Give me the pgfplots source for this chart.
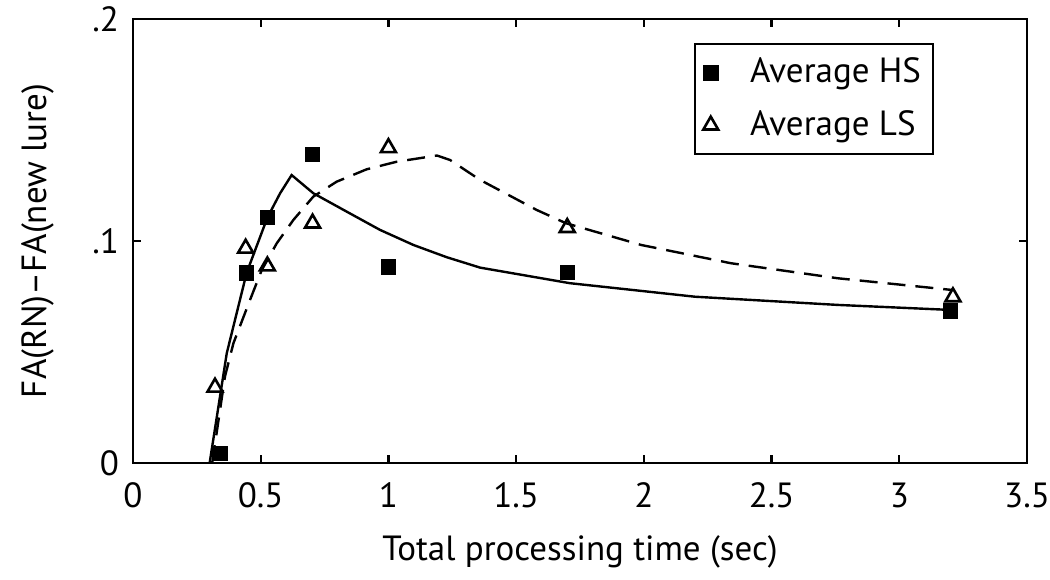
\documentclass[border=0pt]{standalone}
\usepackage{pgfplots}
\pgfplotsset{compat=1.18}
\usepackage{fontspec}
\setmainfont{PT Sans}
\begin{document}
\fontsize{17.5}{21}\selectfont
\begin{tikzpicture}
\begin{axis}[
  scale only axis,
  width=447pt, height=222pt,
  xmin=0, xmax=3.5, ymin=0, ymax=0.2,
  xtick={0,0.5,1,1.5,2,2.5,3,3.5},
  xticklabels={0,0.5,1,1.5,2,2.5,3,3.5},
  ytick={0,0.1,0.2},
  yticklabels={0,.1,.2},
  tick align=inside,
  major tick length=4pt,
  axis line style={line width=1.3pt},
  every tick/.style={black, line width=1.1pt},
  /pgf/number format/assume math mode=true,
  tick label style={font=\fontsize{17.5}{21}\selectfont},
  xticklabel style={yshift=-4pt},
  yticklabel style={xshift=-1pt},
  xlabel={Total processing time (sec)},
  ylabel={FA(RN)\textendash FA(new lure)},
  every axis x label/.style={at={(rel axis cs:0.5,0)}, anchor=center, yshift=-44.5pt, font=\fontsize{17.5}{21}\selectfont},
  every axis y label/.style={at={(rel axis cs:0,0.5)}, rotate=90, anchor=center, yshift=47.5pt, font=\fontsize{17.5}{21}\selectfont},
  legend style={at={(rel axis cs:1,1)}, anchor=north east, xshift=-46.5pt, yshift=-12pt,
    draw=black, line width=1pt, inner xsep=4pt, inner ysep=5pt,
    row sep=7pt, font=\fontsize{17.5}{21}\selectfont,
    /tikz/every odd column/.append style={column sep=14pt}},
  legend cell align=left,
  legend image code/.code={\draw[#1] plot coordinates {(6pt,0pt)};},
]
% model curves
\addplot[black, line width=1.2pt, forget plot] coordinates {
 (0.30,0.0) (0.367,0.0494) (0.445,0.0857) (0.526,0.1105) (0.576,0.1215) (0.621,0.1297)
 (0.706,0.1215) (0.837,0.1132) (0.967,0.105) (1.098,0.0982) (1.228,0.0927) (1.359,0.088)
 (1.71,0.081) (2.2,0.0749) (2.76,0.0712) (3.21,0.0689)};
\addplot[black, line width=1.2pt, dash pattern=on 9pt off 5pt, forget plot] coordinates {
 (0.31,0.0) (0.36,0.0389) (0.393,0.0539) (0.458,0.0734) (0.504,0.0869) (0.563,0.099)
 (0.628,0.1095) (0.706,0.12) (0.797,0.1267) (0.915,0.1323) (1.032,0.1357) (1.19,0.1385)
 (1.241,0.1365) (1.359,0.1275) (1.58,0.114) (1.695,0.108) (1.99,0.0982) (2.34,0.09)
 (2.76,0.0832) (3.21,0.0779)};
% data
\addplot[only marks, mark=square*, mark size=3.6pt, black] coordinates {
 (0.34,0.0044) (0.445,0.0857) (0.526,0.1105) (0.703,0.139) (1.0,0.0884) (1.70,0.0859) (3.20,0.0685)};
\addlegendentry{Average HS}
\addplot[only marks, mark=triangle, mark size=4.3pt, black, line width=1.3pt, mark options={fill=white}] coordinates {
 (0.321,0.0341) (0.441,0.0967) (0.526,0.0887) (0.703,0.108) (1.0,0.142) (1.70,0.106) (3.21,0.0748)};
\addlegendentry{Average LS}
\end{axis}
\pgfresetboundingbox
\path[use as bounding box] ([shift={(-66.5pt,-58.5pt)}]current axis.south west) rectangle ([shift={(11.5pt,9.5pt)}]current axis.north east);
\end{tikzpicture}
\end{document}
